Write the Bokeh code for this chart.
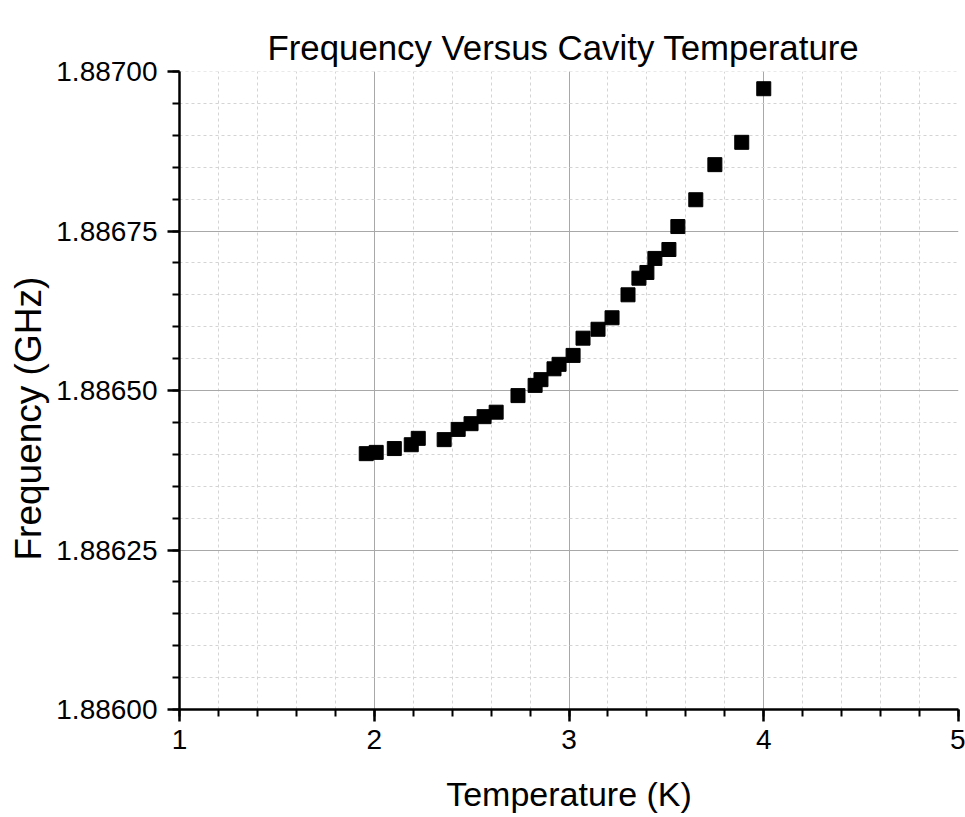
from bokeh.plotting import figure
from bokeh.models import FixedTicker, PrintfTickFormatter, Title, ColumnDataSource
from bokeh.embed import file_html
from bokeh.resources import INLINE

# Data
temperature_k = [1.959, 2.010, 2.103, 2.190, 2.226, 2.359, 2.431, 2.497, 2.564, 2.626,
                 2.738, 2.826, 2.856, 2.923, 2.949, 3.021, 3.072, 3.149, 3.221, 3.303,
                 3.359, 3.400, 3.441, 3.513, 3.559, 3.651, 3.749, 3.887, 4.000]
frequency_ghz = [1.886401, 1.886403, 1.886409, 1.886415, 1.886425, 1.886423, 1.886439,
                 1.886448, 1.886459, 1.886466, 1.886492, 1.886508, 1.886517, 1.886534,
                 1.886541, 1.886555, 1.886582, 1.886596, 1.886614, 1.886650, 1.886676,
                 1.886685, 1.886707, 1.886721, 1.886757, 1.886799, 1.886854, 1.886889,
                 1.886973]

x_major = [1, 2, 3, 4, 5]
x_minor = [1 + 0.2 * i for i in range(21)]
y_major = [1.88600, 1.88625, 1.88650, 1.88675, 1.88700]
y_minor = [1.88600 + 0.00005 * i for i in range(21)]

FONT = "Liberation Sans"

p = figure(width=965, height=817, output_backend="svg", toolbar_location=None,
           x_range=(1, 5), y_range=(1.886, 1.887), title=None,
           min_border_left=178, min_border_right=7, min_border_top=71, min_border_bottom=108)
p.outline_line_color = None
p.background_fill_color = "white"
p.border_fill_color = "white"

main_title = Title(text="Frequency Versus Cavity Temperature", align="left", offset=88,
                   text_font=FONT, text_font_size="34.8px", text_font_style="normal",
                   text_color="black", standoff=10, text_line_height=0.5)
p.add_layout(main_title, "above")

src = ColumnDataSource(dict(x=temperature_k, y=frequency_ghz))
p.scatter("x", "y", source=src, marker="square", size=14, fill_color="black",
          line_color="black")

for ax in (p.xaxis[0], p.yaxis[0]):
    ax.axis_line_width = 2.5
    ax.axis_line_color = "black"
    ax.major_tick_line_width = 2.5
    ax.minor_tick_line_width = 2
    ax.major_tick_line_color = "black"
    ax.minor_tick_line_color = "black"
    ax.major_tick_out = 12
    ax.major_tick_in = 0
    ax.minor_tick_out = 7
    ax.minor_tick_in = 0
    ax.major_label_text_font = FONT
    ax.major_label_text_font_size = "28px"
    ax.major_label_text_color = "black"
    ax.axis_label_text_font = FONT
    ax.axis_label_text_font_size = "34px"
    ax.axis_label_text_font_style = "normal"
    ax.axis_label_text_color = "black"

p.xaxis[0].ticker = FixedTicker(ticks=x_major, minor_ticks=x_minor)
p.yaxis[0].ticker = FixedTicker(ticks=y_major, minor_ticks=y_minor)
p.yaxis[0].formatter = PrintfTickFormatter(format="%.5f")
p.xaxis[0].major_label_standoff = 8
p.yaxis[0].major_label_standoff = 10
p.xaxis[0].axis_label = "Temperature (K)"
p.xaxis[0].axis_label_standoff = 23

ylab = Title(text="Frequency (GHz)", align="left", text_font=FONT,
             text_font_size="37px", text_font_style="normal", text_color="black",
             offset=149, standoff=10, text_line_height=0.5)
p.add_layout(ylab, "left")

for g in (p.xgrid[0], p.ygrid[0]):
    g.grid_line_color = "#a8a8a8"
    g.grid_line_width = 1
    g.minor_grid_line_color = "#d4d4d4"
    g.minor_grid_line_width = 1
    g.minor_grid_line_dash = "3 3"

open("out.html", "w").write(file_html(p, INLINE))
